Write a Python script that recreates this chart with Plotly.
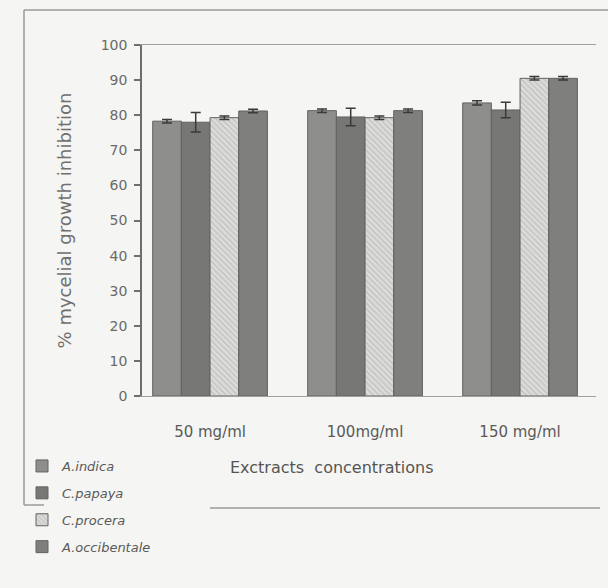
import plotly.graph_objects as go

categories = ["50 mg/ml", "100mg/ml", "150 mg/ml"]
series_names = ["A.indica", "C.papaya", "C.procera", "A.occibentale"]
a_indica = [78.3, 81.3, 83.5]
c_papaya = [78.0, 79.5, 81.5]
c_procera = [79.3, 79.3, 90.5]
a_occidentale = [81.2, 81.3, 90.5]
a_indica_err = [0.5, 0.5, 0.6]
c_papaya_err = [2.8, 2.5, 2.2]
c_procera_err = [0.5, 0.5, 0.5]
a_occidentale_err = [0.5, 0.5, 0.5]
y_ticks = [0, 10, 20, 30, 40, 50, 60, 70, 80, 90, 100]

values = [a_indica, c_papaya, c_procera, a_occidentale]
errors = [a_indica_err, c_papaya_err, c_procera_err, a_occidentale_err]
colors = ["#8e8e8c", "#777775", "#dadad8", "#7f7f7d"]
patterns = ["", "", "\\", ""]

BG = "#f5f5f3"
L, R, T, B = 142, 12, 45, 192
PW, PH = 608 - L - R, 588 - T - B


def px(x):
    return (x - L) / PW


def py(y):
    return (588 - B - y) / PH


fig = go.Figure()
for i, (name, v, e) in enumerate(zip(series_names, values, errors)):
    fig.add_trace(go.Bar(
        x=categories, y=v, name=name, legendgroup=name,
        marker=dict(color=colors[i], line=dict(color="#626260", width=1),
                    pattern=dict(shape=patterns[i], fgcolor="#a2a2a0", bgcolor="#dcdcda",
                                 size=4, solidity=0.3)),
        error_y=dict(type="data", array=e, color="#3a3a38", thickness=1.5, width=5),
    ))

fig.update_layout(
    width=608, height=588,
    paper_bgcolor=BG, plot_bgcolor=BG,
    margin=dict(l=L, r=R, t=T, b=B),
    barmode="group", bargap=0.26, bargroupgap=0,
    font=dict(family="DejaVu Sans, sans-serif", color="#5a5a58", size=13),
    showlegend=True,
    legend=dict(orientation="v", x=px(22), y=py(451), xanchor="left", yanchor="top",
                bgcolor="rgba(0,0,0,0)",
                font=dict(size=13, color="#5a5a58", family="DejaVu Sans, sans-serif",
                          style="italic"),
                tracegroupgap=7, traceorder="grouped"),
    xaxis=dict(range=[-0.439, 2.49], showline=True, linecolor="#a0a09e", linewidth=1,
               mirror=True, ticks="", ticklabelstandoff=22,
               tickfont=dict(size=15, color="#5a5a58"), showgrid=False),
    yaxis=dict(range=[0, 100], tickvals=y_ticks, showline=True, linecolor="#6e6e6c",
               linewidth=1.5, mirror=False, ticks="outside", ticklen=6, tickcolor="#6e6e6c",
               tickwidth=1.5, ticklabelstandoff=4,
               showgrid=False, zeroline=False, tickfont=dict(size=14, color="#6a6a68"),
               title=dict(text="% mycelial growth inhibition",
                          font=dict(size=18, color="#707070"), standoff=24)),
)

# x title
fig.add_annotation(text="Exctracts  concentrations", xref="paper", yref="paper",
                   x=px(331), y=py(467), showarrow=False,
                   font=dict(size=16, color="#555553"), xanchor="center", yanchor="middle")
# decorative frame lines of the printed figure
lc = dict(color="#9a9a98", width=1.5)
fig.add_shape(type="line", xref="paper", yref="paper", x0=px(24), x1=px(608),
              y0=py(10), y1=py(10), line=lc)
fig.add_shape(type="line", xref="paper", yref="paper", x0=px(24), x1=px(24),
              y0=py(10), y1=py(505), line=lc)
fig.add_shape(type="line", xref="paper", yref="paper", x0=px(24), x1=px(44),
              y0=py(505), y1=py(505), line=lc)
fig.add_shape(type="line", xref="paper", yref="paper", x0=px(210), x1=px(600),
              y0=py(508), y1=py(508), line=lc)

fig.write_html("out.html", config={"displayModeBar": False},
               post_script="document.body.style.margin='0';"
                           "document.body.style.background='%s';" % BG)
